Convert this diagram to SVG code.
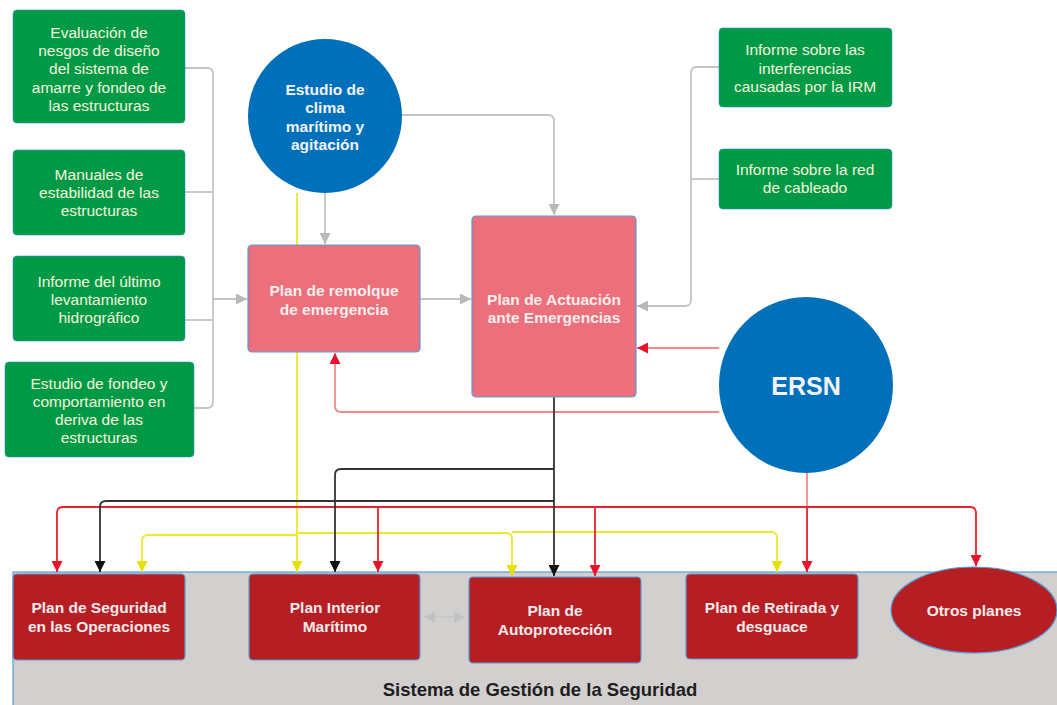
<svg xmlns="http://www.w3.org/2000/svg" width="1057" height="705" viewBox="0 0 1057 705">
<style>
.g{fill:#009a47;stroke:#2f8fd0;stroke-width:0.6}
.gt{font-family:"Liberation Sans",Arial,sans-serif;font-size:15.5px;fill:#f4f4dc;text-anchor:middle}
.b{fill:#0070ba}
.bt{font-family:"Liberation Sans",Arial,sans-serif;font-weight:bold;fill:#f4f4f8;text-anchor:middle}
.p{fill:#ec707b;stroke:#5b9bd5;stroke-width:1.2}
.pt{font-family:"Liberation Sans",Arial,sans-serif;font-weight:bold;font-size:15.5px;fill:#fdeeee;text-anchor:middle}
.r{fill:#b51f24;stroke:#5b9bd5;stroke-width:1.2}
.rt{font-family:"Liberation Sans",Arial,sans-serif;font-weight:bold;font-size:15.5px;fill:#f8eaea;text-anchor:middle}
.c{fill:none;stroke-width:1.8}
.cg{stroke:#c4c4c4}
.cr{stroke:#e8232b}
.cl{stroke:#f48a86}
.ck{stroke:#333333}
.cy{stroke:#ece82a}
</style>
<defs>
<marker id="ag" viewBox="0 0 10 10" refX="10" refY="5" markerWidth="11" markerHeight="11" markerUnits="userSpaceOnUse" orient="auto-start-reverse"><path d="M0,0 L10,5 L0,10 z" fill="#b8b8b8"/></marker>
<marker id="ar" viewBox="0 0 10 10" refX="10" refY="5" markerWidth="11" markerHeight="11" markerUnits="userSpaceOnUse" orient="auto"><path d="M0,0 L10,5 L0,10 z" fill="#e8132b"/></marker>
<marker id="ak" viewBox="0 0 10 10" refX="10" refY="5" markerWidth="11" markerHeight="11" markerUnits="userSpaceOnUse" orient="auto"><path d="M0,0 L10,5 L0,10 z" fill="#111111"/></marker>
<marker id="ay" viewBox="0 0 10 10" refX="10" refY="5" markerWidth="11" markerHeight="11" markerUnits="userSpaceOnUse" orient="auto"><path d="M0,0 L10,5 L0,10 z" fill="#e6e000"/></marker>
</defs>
<rect width="1057" height="705" fill="#ffffff"/>
<g id="sistema-gestion">
<rect x="13" y="572" width="1050" height="140" fill="#d2cfcf" stroke="#5b9bd5" stroke-width="1.2"/>
<text x="540" y="696" font-family="Liberation Sans,Arial,sans-serif" font-weight="bold" font-size="18.5px" fill="#1e1e1e" text-anchor="middle">Sistema de Gestión de la Seguridad</text>
</g>
<g id="connectors">
<path class="c cg" d="M185,68 H207 Q213,68 213,74 V402 Q213,408 207,408 H194"/>
<path class="c cg" d="M185,192 H213"/>
<path class="c cg" d="M185,320 H213"/>
<path class="c cg" d="M213,299 H247" marker-end="url(#ag)"/>
<path class="c cg" d="M325,193 V244" marker-end="url(#ag)"/>
<path class="c cg" d="M402,115 H548 Q554,115 554,121 V215" marker-end="url(#ag)"/>
<path class="c cg" d="M420,299 H471" marker-end="url(#ag)"/>
<path class="c cg" d="M719,67 H697 Q691,67 691,73 V300 Q691,306 685,306 H637" marker-end="url(#ag)"/>
<path class="c cg" d="M719,179 H691"/>
<path class="c cg" stroke-width="1.2" d="M424,617 H465" marker-start="url(#ag)" marker-end="url(#ag)" opacity="0.6"/>
<path class="c cy" d="M297,193 V572" marker-end="url(#ay)"/>
<path class="c cy" d="M297,535 H148 Q142,535 142,541 V572" marker-end="url(#ay)"/>
<path class="c cy" d="M297,533 H506 Q512,533 512,539 V576" marker-end="url(#ay)"/>
<path class="c cy" d="M512,532 H771 Q777,532 777,538 V572" marker-end="url(#ay)"/>
<path class="c cl" d="M719,348 H637" marker-end="url(#ar)"/>
<path class="c cl" d="M719,412 H341 Q335,412 335,406 V353" marker-end="url(#ar)"/>
<path class="c cl" d="M807,472 V507"/>
<path class="c cr" d="M807,507 V572" marker-end="url(#ar)"/>
<path class="c cr" d="M807,507 H63 Q57,507 57,513 V572" marker-end="url(#ar)"/>
<path class="c cr" d="M807,507 H970 Q976,507 976,513 V566" marker-end="url(#ar)"/>
<path class="c cr" d="M378,507 V572" marker-end="url(#ar)"/>
<path class="c cr" d="M595,507 V576" marker-end="url(#ar)"/>
<path class="c ck" d="M554,397 V576" marker-end="url(#ak)"/>
<path class="c ck" d="M554,469 H341 Q335,469 335,475 V572" marker-end="url(#ak)"/>
<path class="c ck" d="M554,501 H106 Q100,501 100,507 V572" marker-end="url(#ak)"/>
</g>
<g id="evaluacion-riesgos">
<rect class="g" x="13" y="10" width="172" height="113" rx="4"/>
<text class="gt" x="99" y="38">Evaluación de</text>
<text class="gt" x="99" y="56">nesgos de diseño</text>
<text class="gt" x="99" y="74">del sistema de</text>
<text class="gt" x="99" y="93">amarre y fondeo de</text>
<text class="gt" x="99" y="111">las estructuras</text>
</g>
<g id="manuales-estabilidad">
<rect class="g" x="13" y="150" width="172" height="85" rx="4"/>
<text class="gt" x="99" y="180">Manuales de</text>
<text class="gt" x="99" y="198">estabilidad de las</text>
<text class="gt" x="99" y="216">estructuras</text>
</g>
<g id="informe-levantamiento">
<rect class="g" x="13" y="256" width="172" height="85" rx="4"/>
<text class="gt" x="99" y="287">Informe del último</text>
<text class="gt" x="99" y="305">levantamiento</text>
<text class="gt" x="99" y="323">hidrográfico</text>
</g>
<g id="estudio-fondeo">
<rect class="g" x="5" y="362" width="189" height="95" rx="4"/>
<text class="gt" x="99" y="389">Estudio de fondeo y</text>
<text class="gt" x="99" y="407">comportamiento en</text>
<text class="gt" x="99" y="425">deriva de las</text>
<text class="gt" x="99" y="443">estructuras</text>
</g>
<g id="estudio-clima">
<circle class="b" cx="325" cy="116" r="77"/>
<text class="bt" font-size="15.5px" x="325" y="95">Estudio de</text>
<text class="bt" font-size="15.5px" x="325" y="113">clima</text>
<text class="bt" font-size="15.5px" x="325" y="132">marítimo y</text>
<text class="bt" font-size="15.5px" x="325" y="150">agitación</text>
</g>
<g id="plan-remolque">
<rect class="p" x="248" y="245" width="172" height="107" rx="4"/>
<text class="pt" x="334" y="296">Plan de remolque</text>
<text class="pt" x="334" y="315">de emergencia</text>
</g>
<g id="plan-actuacion">
<rect class="p" x="472" y="216" width="164" height="181" rx="4"/>
<text class="pt" x="554" y="305">Plan de Actuación</text>
<text class="pt" x="554" y="323">ante Emergencias</text>
</g>
<g id="informe-irm">
<rect class="g" x="719" y="28" width="173" height="79" rx="4"/>
<text class="gt" x="805" y="55">Informe sobre las</text>
<text class="gt" x="805" y="74">interferencias</text>
<text class="gt" x="805" y="92">causadas por la IRM</text>
</g>
<g id="informe-cableado">
<rect class="g" x="719" y="149" width="173" height="60" rx="4"/>
<text class="gt" x="805" y="175">Informe sobre la red</text>
<text class="gt" x="805" y="193">de cableado</text>
</g>
<g id="ersn">
<ellipse class="b" cx="806" cy="385" rx="87" ry="88"/>
<text class="bt" font-size="25px" x="806" y="395">ERSN</text>
</g>
<g id="plan-seguridad">
<rect class="r" x="13" y="574" width="172" height="86" rx="4"/>
<text class="rt" x="99" y="613">Plan de Seguridad</text>
<text class="rt" x="99" y="632">en las Operaciones</text>
</g>
<g id="plan-interior">
<rect class="r" x="249" y="574" width="171" height="86" rx="4"/>
<text class="rt" x="335" y="613">Plan Interior</text>
<text class="rt" x="335" y="632">Marítimo</text>
</g>
<g id="plan-autoproteccion">
<rect class="r" x="469" y="577" width="172" height="86" rx="4"/>
<text class="rt" x="555" y="616">Plan de</text>
<text class="rt" x="555" y="635">Autoprotección</text>
</g>
<g id="plan-retirada">
<rect class="r" x="686" y="574" width="172" height="85" rx="4"/>
<text class="rt" x="772" y="613">Plan de Retirada y</text>
<text class="rt" x="772" y="632">desguace</text>
</g>
<g id="otros-planes">
<ellipse class="r" cx="974" cy="610" rx="83" ry="43"/>
<text class="rt" x="974" y="616">Otros planes</text>
</g>
</svg>
